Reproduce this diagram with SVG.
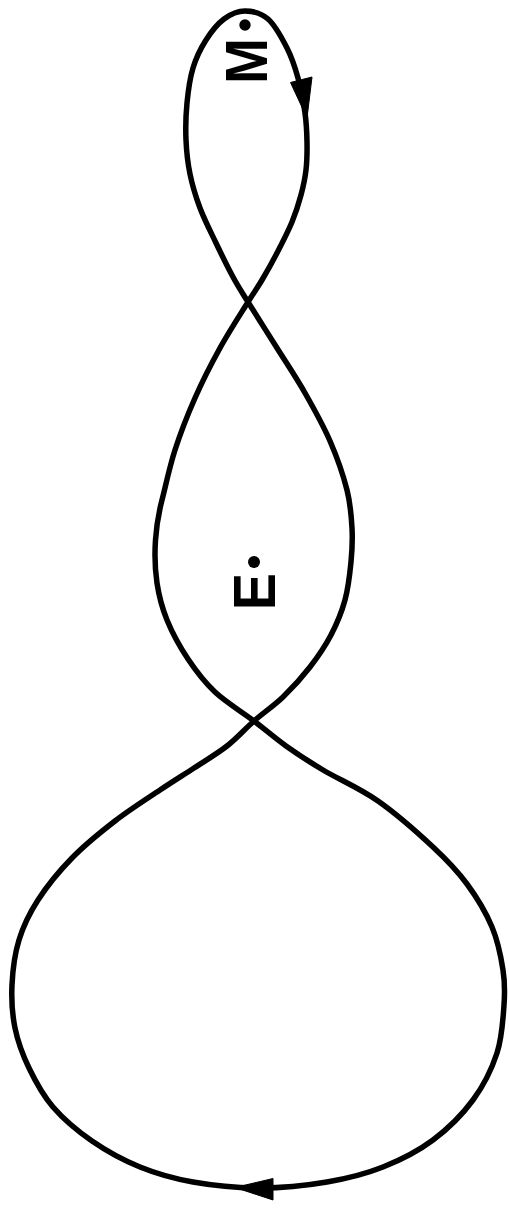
<svg xmlns="http://www.w3.org/2000/svg" width="509" height="1217" viewBox="0 0 509 1217">
<style>
.orbit{fill:none;stroke:#000;stroke-width:5.5;stroke-linejoin:round;stroke-linecap:round}
.head{fill:#000;stroke:#000;stroke-width:1;stroke-linejoin:round}
.lbl{font-family:"Liberation Sans",Arial,sans-serif;font-weight:bold;font-size:60px;fill:#000;text-anchor:middle}
.pt{fill:#000}
</style>
<rect width="509" height="1217" fill="#fff"/>
<g id="connectors">
<path class="orbit" d="M260,1188 C237.67,1188 213,1185.5 193,1182 S156.83,1173.83 140,1167 S106.5,1151 92,1141 S63.5,1119.17 53,1107 S35.33,1081.17 29,1068 S17.83,1041.83 15,1028 S11.33,999.67 12,985 S14.67,954.17 19,940 S29.17,913.67 38,900 S59.17,871.17 72,858 S100.33,832.33 115,821 S146.83,798.83 160,790 S182.83,775.33 194,768 S217,753.83 227,746 S244.67,729.17 254,721 S273.67,706 283,697 S302,677.33 310,667 S325.17,646.17 331,635 S341.67,612.17 345,600 S349.83,574 351,562 S352.67,540 352,528 S350.67,504.5 347,490 S337,457.17 330,441 S313.83,408.5 305,393 S286.5,363.17 277,348 S255.33,313.83 248,302 S238.33,286.83 233,277 S221.5,254.5 216,243 S204.33,219.5 200,208 S192.33,185.33 190,174 S186.5,151.83 186,140 S185.83,115 187,103 S189.83,78.5 193,68 S200.83,48.17 206,40 S217.5,23.83 224,19 S237.67,11 245,11 S261,12.83 268,19 S282,38.17 287,48 S295,67.17 298,78 S303.5,102.33 305,113 S306.83,132.5 307,142 S307,161.17 306,170 S303.33,186.33 301,195 S296,212.33 292,222 S282,243.33 277,253 S266.83,271.83 262,280 S255,290.67 248,302 S228.83,332 220,348 S202.5,381 195,398 S180.5,433 175,450 S166,484.5 162,500 S156.5,525 155.5,540 S155,569.67 157,583 S161.83,607.33 167,620 S180,647 188,659 S204,681.67 215,692 S242.17,712 254,721 S274.5,737.83 286,746 S307.67,760.83 323,770 S359.67,788.17 378,801 S418.17,833.17 433,847 S457.17,870.67 467,884 S486,912.67 492,927 S501,957 503,970 S505,991.17 504,1005 S502.17,1037.17 497,1053 S483.67,1085.5 473,1100 S448,1128.83 433,1140 S400.67,1160 383,1167 S347.5,1178.5 327,1182 S282.33,1188 260,1188 Z"/>
<polygon class="head" points="290.5,82.5 312,77 307,118"/>
<polygon class="head" points="273,1178.5 273,1200 235,1187.5"/>
</g>
<g id="node-moon">
<circle class="pt" cx="245" cy="25" r="5.7"/>
<text class="lbl" transform="translate(267,61) rotate(-90) scale(0.92,1)" x="0" y="0">M</text>
</g>
<g id="node-earth">
<circle class="pt" cx="254" cy="562" r="6"/>
<text class="lbl" transform="translate(275,591.7) rotate(-90) scale(0.93,1)" x="0" y="0">E</text>
</g>
</svg>
